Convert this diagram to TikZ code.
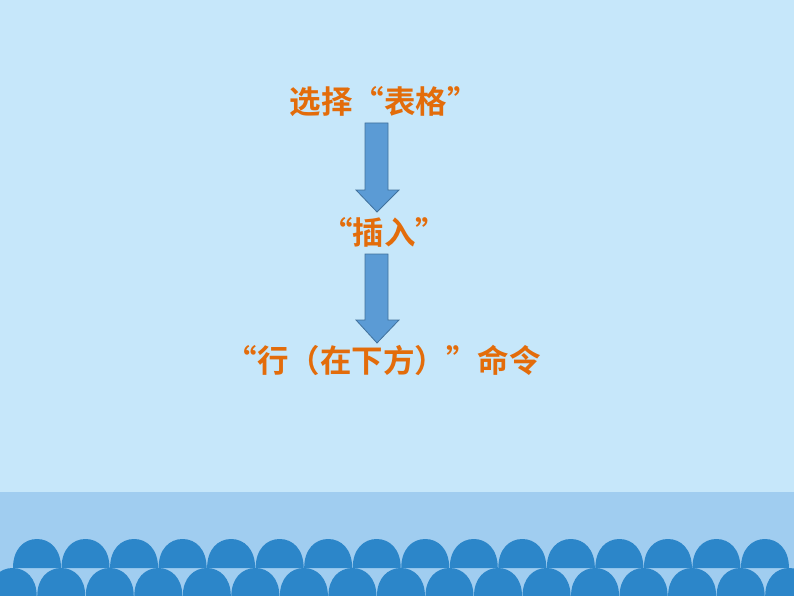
\documentclass[tikz,border=0pt]{standalone}
\usepackage{fontspec}
\newfontfamily\cjk{Noto Sans CJK SC}[BoldFont={Noto Sans CJK SC Bold}]
\usetikzlibrary{shapes.arrows}
\definecolor{bgtop}{HTML}{C6E7FA}
\definecolor{band}{HTML}{A0CDF0}
\definecolor{bump}{HTML}{2C86C9}
\definecolor{txt}{HTML}{E36C0A}
\definecolor{arrfill}{HTML}{5B9BD5}
\definecolor{arrline}{HTML}{41719C}
\tikzset{
  label/.style={font=\cjk\bfseries\fontsize{31.5}{33}\selectfont, text=txt, inner sep=0pt, anchor=center},
  blockarrow/.style={fill=arrfill, draw=arrline, line width=0.8pt, line join=miter},
}
\begin{document}
\begin{tikzpicture}[x=1pt,y=-1pt]
\useasboundingbox (0,0) rectangle (794,596);
\fill[bgtop] (0,0) rectangle (794,596);
\fill[band] (0,492) rectangle (794,596);
% bottom row of arches
\foreach \i in {0,...,16} {
  \pgfmathsetmacro{\cx}{12.7+48.53*\i}
  \fill[bump] (\cx-24,600) -- (\cx-24,596) .. controls (\cx-24,578) and (\cx-13,568) .. (\cx,568) .. controls (\cx+13,568) and (\cx+24,578) .. (\cx+24,596) -- (\cx+24,600) -- cycle;
}
% top row of arches
\foreach \i in {0,...,15} {
  \pgfmathsetmacro{\cx}{37+48.53*\i}
  \fill[bump] (\cx-24,568) .. controls (\cx-24,549) and (\cx-13,539) .. (\cx,539) .. controls (\cx+13,539) and (\cx+24,549) .. (\cx+24,568) -- cycle;
}
% texts
\node[label] (t1) at (384,102) {选择“表格”};
\node[label] (t2) at (384,232) {“插入”};
\node[label] (t3) at (383,360) {“行（在下方）”命令};
% block arrows
\draw[blockarrow] (365,123) -- (388,123) -- (388,190) -- (399,190) -- (377,212) -- (356,190) -- (365,190) -- cycle;
\draw[blockarrow] (365,254) -- (388,254) -- (388,320) -- (399,320) -- (377,343) -- (356,320) -- (365,320) -- cycle;
\end{tikzpicture}
\end{document}
